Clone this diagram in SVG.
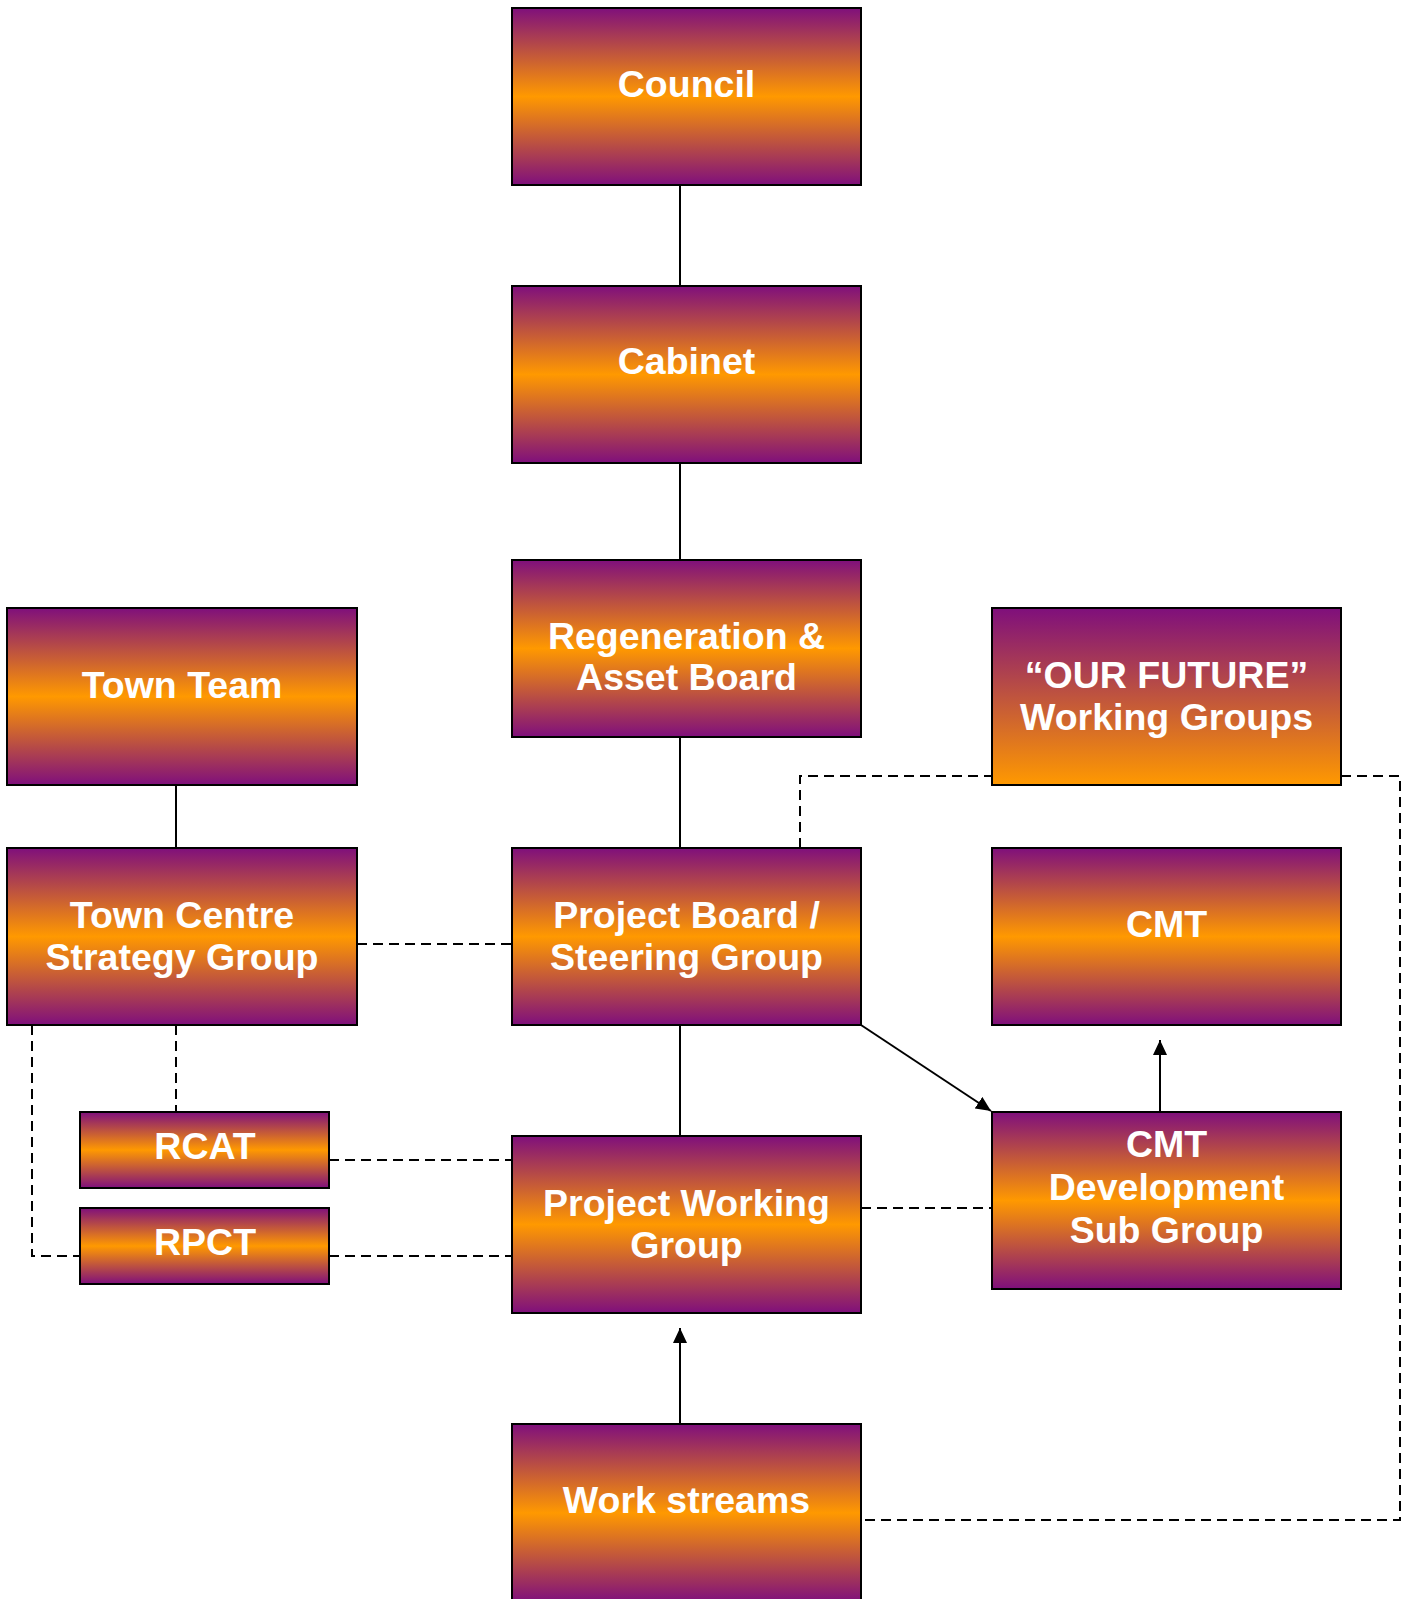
<svg xmlns="http://www.w3.org/2000/svg" width="1412" height="1599" viewBox="0 0 1412 1599">
<defs>
<linearGradient id="g1" x1="0" y1="0" x2="0" y2="1">
<stop offset="0" stop-color="#7f0f7c"/>
<stop offset="0.5" stop-color="#ff9900"/>
<stop offset="1" stop-color="#7f0f7c"/>
</linearGradient>
<linearGradient id="g2" x1="0" y1="0" x2="0" y2="1">
<stop offset="0" stop-color="#7f0f7c"/>
<stop offset="1" stop-color="#ff9900"/>
</linearGradient>
<marker id="arr" viewBox="0 0 15 14" refX="15" refY="7" markerWidth="15" markerHeight="14" markerUnits="userSpaceOnUse" orient="auto">
<path d="M0,0 L15,7 L0,14 Z" fill="#000"/>
</marker>
</defs>
<style>
.box{fill:url(#g1);stroke:#000;stroke-width:2}
.box2{fill:url(#g2);stroke:#000;stroke-width:2}
.t{font-family:"Liberation Sans",Arial,sans-serif;font-weight:bold;font-size:37.5px;fill:#fff;text-anchor:middle}
.solid{stroke:#000;stroke-width:2;fill:none}
.dash{stroke:#000;stroke-width:2;fill:none;stroke-dasharray:10,6}
</style>
<g id="connectors">
<line class="solid" x1="680" y1="185" x2="680" y2="286"/>
<line class="solid" x1="680" y1="463" x2="680" y2="560"/>
<line class="solid" x1="680" y1="737" x2="680" y2="848"/>
<line class="solid" x1="680" y1="1025" x2="680" y2="1136"/>
<line class="solid" x1="176" y1="785" x2="176" y2="848"/>
<line class="solid" x1="861" y1="1025" x2="991" y2="1111" marker-end="url(#arr)"/>
<line class="solid" x1="1160" y1="1112" x2="1160" y2="1040" marker-end="url(#arr)"/>
<line class="solid" x1="680" y1="1424" x2="680" y2="1328" marker-end="url(#arr)"/>
<line class="dash" x1="357" y1="944" x2="512" y2="944"/>
<line class="dash" x1="861" y1="1208" x2="992" y2="1208"/>
<line class="dash" x1="329" y1="1160" x2="512" y2="1160"/>
<line class="dash" x1="329" y1="1256" x2="512" y2="1256"/>
<line class="dash" x1="176" y1="1025" x2="176" y2="1112"/>
<polyline class="dash" points="32,1025 32,1256 80,1256"/>
<polyline class="dash" points="800,848 800,776 992,776"/>
<polyline class="dash" points="1341,776 1400,776 1400,1520 861,1520"/>
</g>
<g id="council"><rect class="box" x="512" y="8" width="349" height="177"/><text class="t" x="686.5" y="97">Council</text></g>
<g id="cabinet"><rect class="box" x="512" y="286" width="349" height="177"/><text class="t" x="686.5" y="374">Cabinet</text></g>
<g id="regeneration"><rect class="box" x="512" y="560" width="349" height="177"/><text class="t" x="686.5" y="649">Regeneration &amp;</text><text class="t" x="686.5" y="690">Asset Board</text></g>
<g id="town-team"><rect class="box" x="7" y="608" width="350" height="177"/><text class="t" x="182" y="698">Town Team</text></g>
<g id="our-future"><rect class="box2" x="992" y="608" width="349" height="177"/><text class="t" x="1166.5" y="688">“OUR FUTURE”</text><text class="t" x="1166.5" y="730">Working Groups</text></g>
<g id="town-centre"><rect class="box" x="7" y="848" width="350" height="177"/><text class="t" x="182" y="928">Town Centre</text><text class="t" x="182" y="970">Strategy Group</text></g>
<g id="project-board"><rect class="box" x="512" y="848" width="349" height="177"/><text class="t" x="686.5" y="928">Project Board /</text><text class="t" x="686.5" y="970">Steering Group</text></g>
<g id="cmt"><rect class="box" x="992" y="848" width="349" height="177"/><text class="t" x="1166.5" y="937">CMT</text></g>
<g id="rcat"><rect class="box" x="80" y="1112" width="249" height="76"/><text class="t" x="205" y="1159">RCAT</text></g>
<g id="rpct"><rect class="box" x="80" y="1208" width="249" height="76"/><text class="t" x="205" y="1255">RPCT</text></g>
<g id="project-working-group"><rect class="box" x="512" y="1136" width="349" height="177"/><text class="t" x="686.5" y="1216">Project Working</text><text class="t" x="686.5" y="1258">Group</text></g>
<g id="cmt-dev"><rect class="box" x="992" y="1112" width="349" height="177"/><text class="t" x="1166.5" y="1157">CMT</text><text class="t" x="1166.5" y="1200">Development</text><text class="t" x="1166.5" y="1243">Sub Group</text></g>
<g id="work-streams"><rect class="box" x="512" y="1424" width="349" height="178"/><text class="t" x="686.5" y="1513">Work streams</text></g>
</svg>
